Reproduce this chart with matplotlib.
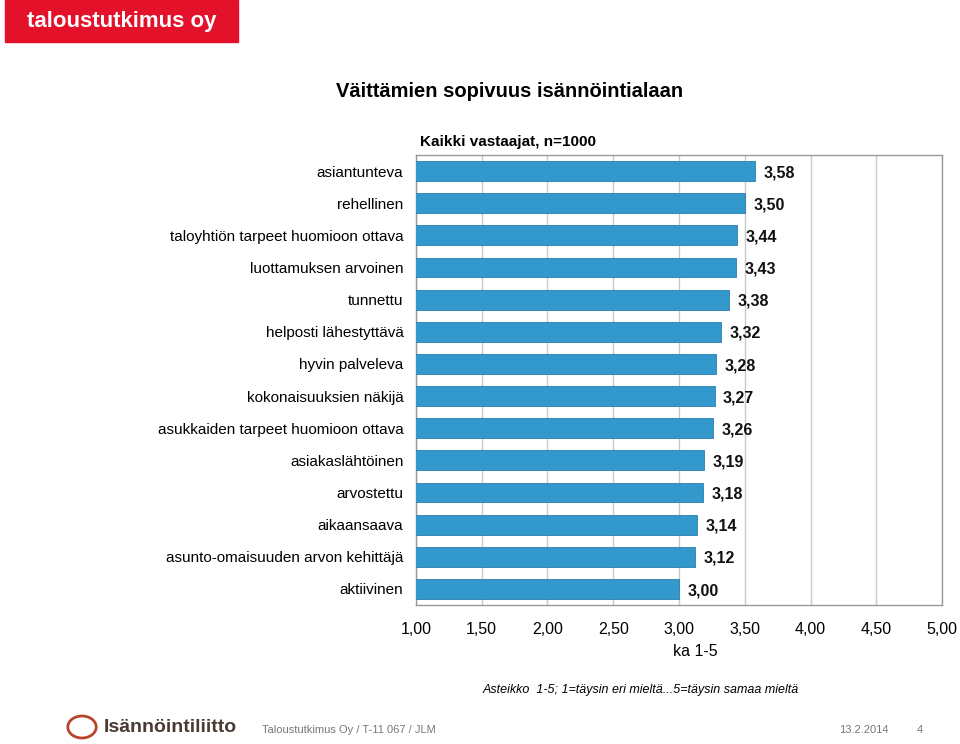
import matplotlib.pyplot as plt
from matplotlib.patches import Rectangle, Circle
import numpy as np

categories = [
    "asiantunteva", "rehellinen", "taloyhtiön tarpeet huomioon ottava",
    "luottamuksen arvoinen", "tunnettu", "helposti lähestyttävä",
    "hyvin palveleva", "kokonaisuuksien näkijä",
    "asukkaiden tarpeet huomioon ottava", "asiakaslähtöinen", "arvostettu",
    "aikaansaava", "asunto-omaisuuden arvon kehittäjä", "aktiivinen",
]
values = [3.58, 3.50, 3.44, 3.43, 3.38, 3.32, 3.28, 3.27, 3.26, 3.19, 3.18,
          3.14, 3.12, 3.00]
ticks = [1.0, 1.5, 2.0, 2.5, 3.0, 3.5, 4.0, 4.5, 5.0]

plt.rcParams['font.family'] = ['Liberation Sans', 'DejaVu Sans']

fig = plt.figure(figsize=(9.6, 7.44), dpi=100)
ax = fig.add_axes([0.4333, 0.1868, 0.548, 0.6049])

y = np.arange(len(categories))
ax.barh(y, values, left=0, height=0.62, color='#3399cc',
        edgecolor='#2b7fae', linewidth=0.6, zorder=3)
for yi, v in zip(y, values):
    ax.text(v + 0.065, yi + 0.05, f"{v:.2f}".replace('.', ','), va='center',
            ha='left', fontsize=11.5, fontweight='bold', color='#111111')

ax.set_xlim(1, 5)
ax.set_ylim(len(categories) - 0.5, -0.5)
ax.set_xticks(ticks)
ax.set_xticklabels([f"{t:.2f}".replace('.', ',') for t in ticks], fontsize=11.5)
ax.set_yticks(y)
ax.set_yticklabels(categories, fontsize=11)
ax.tick_params(axis='y', length=0, pad=9)
ax.tick_params(axis='x', length=0, pad=12)
ax.grid(axis='x', color='#c8c8c8', linewidth=1, zorder=0)
for s in ax.spines.values():
    s.set_color('#999999')
    s.set_linewidth(1)

fig.text(0.531, 0.877, "Väittämien sopivuus isännöintialaan", ha='center',
         va='center', fontsize=14.5, fontweight='bold')
fig.text(0.529, 0.809, "Kaikki vastaajat, n=1000", ha='center',
         va='center', fontsize=11, fontweight='bold')
fig.text(0.724, 0.124, "ka 1-5", ha='center', va='center', fontsize=11.5)
fig.text(0.667, 0.073, "Asteikko  1-5; 1=täysin eri mieltä...5=täysin samaa mieltä",
         ha='center', va='center', fontsize=9, style='italic')

# header logo
fig.patches.append(Rectangle((5 / 960, 1 - 42 / 744), 233 / 960, 42 / 744,
                             transform=fig.transFigure, color='#e3122a'))
fig.text(27 / 960, 1 - 21 / 744, "taloustutkimus oy", ha='left', va='center',
         fontsize=16, fontweight='bold', color='white')

# footer
fig.patches.append(Circle((82 / 960, 1 - 727 / 744), 11 / 744,
                          transform=fig.transFigure, fill=False,
                          edgecolor='#b8452a', linewidth=2))
fig.text(104 / 960, 1 - 727 / 744, "Isännöintiliitto", ha='left', va='center',
         fontsize=14, fontweight='bold', color='#4a3a33')
fig.text(262 / 960, 1 - 730 / 744, "Taloustutkimus Oy / T-11 067 / JLM",
         ha='left', va='center', fontsize=8, color='#777777')
fig.text(864 / 960, 1 - 730 / 744, "13.2.2014", ha='center', va='center',
         fontsize=8, color='#777777')
fig.text(920 / 960, 1 - 730 / 744, "4", ha='center', va='center',
         fontsize=8, color='#777777')

fig.savefig("out.png", dpi=100)
